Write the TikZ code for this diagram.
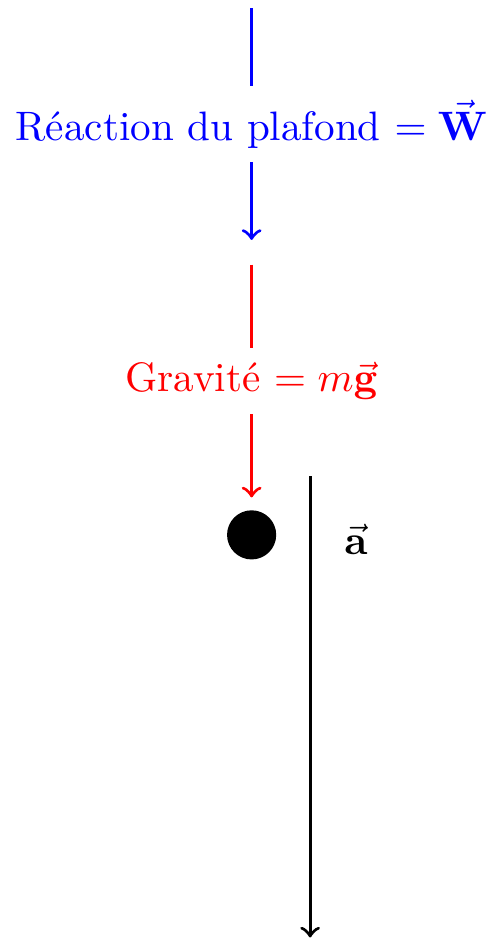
\documentclass[tikz,border=0pt]{standalone}
\usepackage{amsmath}
\usepackage{tikz}
\usetikzlibrary{positioning}
\tikzset{
  force/.style={->, thick},
  lbl/.style={fill=white},
  mass/.style={circle, fill=black, minimum size=4.2mm, inner sep=0pt},
}

\begin{document}
\begin{tikzpicture}
  \useasboundingbox (-2.15,-3.47) rectangle (2.02,4.57);
  \node[mass] (ball) at (0,0) {};
  \coordinate (wtop) at (0,4.5);
  \coordinate (wtip) at (0,2.52);
  \coordinate (gtop) at (0,2.31);
  \coordinate (gtip) at (0,0.32);
  \coordinate (atop) at (0.5,0.5);
  \coordinate (abot) at (0.5,-3.44);
  \draw[force, blue] (wtop) -- node[lbl] (wlbl) {R\'eaction du plafond $=\vec{\mathbf{W}}$} (wtip);
  \draw[force, red] (gtop) -- node[lbl] (glbl) {Gravit\'e $=m\vec{\mathbf{g}}$} (gtip);
  \draw[force] (atop) -- (abot);
  \node (albl) at (0.89,-0.04) {$\vec{\mathbf{a}}$};
\end{tikzpicture}
\end{document}
